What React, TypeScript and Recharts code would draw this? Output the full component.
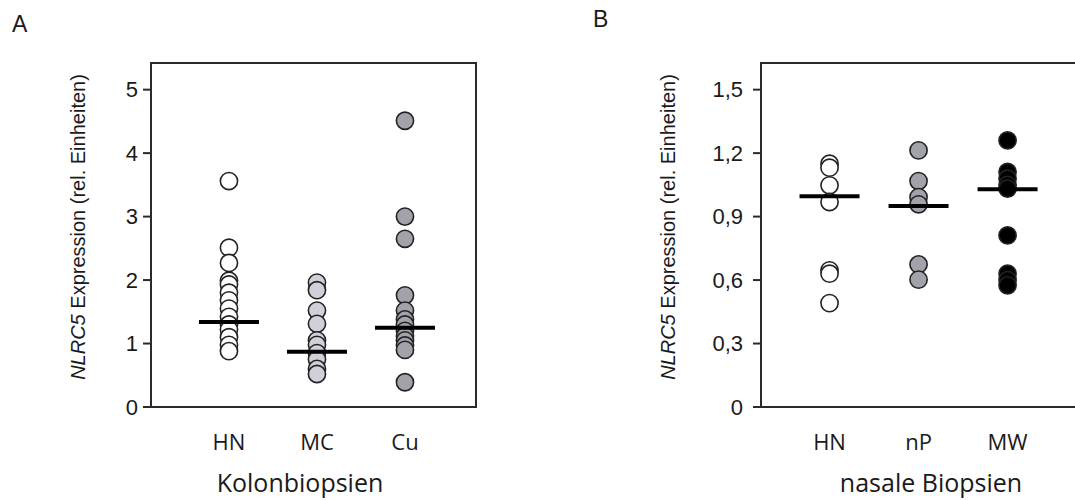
import React from 'react';
import { ScatterChart, Scatter, XAxis, YAxis, ReferenceArea } from 'recharts';

// ---------- Panel A: Kolonbiopsien ----------
const colonCategories = ['HN', 'MC', 'Cu'];
const colonHN = [3.56, 2.51, 2.27, 1.99, 1.93, 1.8, 1.68, 1.55, 1.42, 1.3, 1.22, 1.1, 0.98, 0.88];
const colonMC = [1.96, 1.84, 1.52, 1.31, 1.05, 0.98, 0.85, 0.75, 0.6, 0.52];
const colonCu = [4.51, 3.0, 2.65, 1.76, 1.52, 1.38, 1.3, 1.2, 1.12, 1.05, 0.97, 0.9, 0.39];
const colonMedians = [1.34, 0.87, 1.25];
const colonTicks = [0, 1, 2, 3, 4, 5];
const colonYMax = 5.42;

// ---------- Panel B: nasale Biopsien ----------
const nasalCategories = ['HN', 'nP', 'MW'];
const nasalHN = [1.15, 1.131, 1.048, 0.969, 0.646, 0.63, 0.491];
const nasalNP = [1.213, 1.068, 0.992, 0.958, 0.674, 0.602];
const nasalMW = [1.26, 1.111, 1.079, 1.05, 1.032, 0.811, 0.63, 0.6, 0.575];
const nasalMedians = [0.996, 0.95, 1.029];
const nasalTicks = [0, 0.3, 0.6, 0.9, 1.2, 1.5];
const nasalYMax = 1.626;

const toPoints = (values: number[], pos: number) => values.map((v) => ({ x: pos, y: v }));
const toMedians = (values: number[]) => values.map((v, i) => ({ x: i + 1, y: v }));

const AXIS_COLOR = '#2b2b2b';
const TEXT_COLOR = '#1a1a1a';
const SANS = '"Liberation Sans", Arial, sans-serif';
const LABEL_FONT = '"Open Sans", "Noto Sans", sans-serif';

const dot = (fill: string) => (props: any) => (
  <circle cx={props.cx} cy={props.cy} r={8.6} fill={fill} stroke="#222" strokeWidth={1.6} />
);

const medianShape = (props: any) => (
  <line x1={props.cx - 30} x2={props.cx + 30} y1={props.cy} y2={props.cy} stroke="#000" strokeWidth={4} />
);

const YLabel = ({ cx, cy }: { cx: number; cy: number }) => (
  <text
    x={cx}
    y={cy}
    transform={`rotate(-90, ${cx}, ${cy})`}
    textAnchor="middle"
    dominantBaseline="central"
    fontFamily={SANS}
    fontSize={20}
    fill={TEXT_COLOR}
  >
    <tspan fontStyle="italic">NLRC5</tspan>
    <tspan> Expression (rel. Einheiten)</tspan>
  </text>
);

type PanelProps = {
  categories: string[];
  groups: { values: number[]; fill: string }[];
  medians: number[];
  ticks: number[];
  yMax: number;
  xDomain: [number, number];
  width: number;
  margin: { top: number; right: number; bottom: number; left: number };
  tickMargin: number;
  labelX: number;
  formatY: (v: number) => string;
};

const Panel = (p: PanelProps) => (
  <ScatterChart width={p.width} height={500} margin={p.margin}>
    <XAxis
      type="number"
      dataKey="x"
      domain={p.xDomain}
      ticks={[1, 2, 3]}
      allowDataOverflow
      axisLine={false}
      tickLine={false}
      tickSize={0}
      tickMargin={27}
      height={30}
      tickFormatter={(v: number) => p.categories[Math.round(v) - 1] ?? ''}
      tick={{ fontFamily: LABEL_FONT, fontSize: 22, fill: TEXT_COLOR }}
    />
    <YAxis
      type="number"
      dataKey="y"
      domain={[0, p.yMax]}
      ticks={p.ticks}
      allowDataOverflow
      interval={0}
      axisLine={false}
      tickLine={{ stroke: AXIS_COLOR, strokeWidth: 2 }}
      tickSize={8}
      tickMargin={p.tickMargin}
      width={60}
      tickFormatter={p.formatY}
      tick={{ fontFamily: SANS, fontSize: 22, fill: TEXT_COLOR }}
      label={{ content: () => <YLabel cx={p.labelX} cy={227} /> }}
    />
    <ReferenceArea
      x1={p.xDomain[0]}
      x2={p.xDomain[1]}
      y1={0}
      y2={p.yMax}
      fill="none"
      fillOpacity={0}
      stroke={AXIS_COLOR}
      strokeWidth={2}
      strokeOpacity={1}
      ifOverflow="visible"
    />
    {p.groups.map((g, i) => (
      <Scatter
        key={i}
        data={toPoints(g.values, i + 1)}
        shape={dot(g.fill)}
        isAnimationActive={false}
      />
    ))}
    <Scatter data={toMedians(p.medians)} shape={medianShape} isAnimationActive={false} />
  </ScatterChart>
);

export default function App() {
  return (
    <div
      style={{
        position: 'absolute',
        left: 0,
        top: 0,
        width: 1075,
        height: 500,
        overflow: 'hidden',
        background: '#fff',
      }}
    >
      <div style={{ position: 'absolute', left: 0, top: 0 }}>
        <Panel
          categories={colonCategories}
          groups={[
            { values: colonHN, fill: '#ffffff' },
            { values: colonMC, fill: '#cfd0da' },
            { values: colonCu, fill: '#a2a2aa' },
          ]}
          medians={colonMedians}
          ticks={colonTicks}
          yMax={colonYMax}
          xDomain={[0.114, 3.807]}
          width={500}
          margin={{ top: 63, right: 24, bottom: 63, left: 91 }}
          tickMargin={5}
          labelX={78}
          formatY={(v) => String(v)}
        />
      </div>
      <div style={{ position: 'absolute', left: 560, top: 0 }}>
        <Panel
          categories={nasalCategories}
          groups={[
            { values: nasalHN, fill: '#ffffff' },
            { values: nasalNP, fill: '#a2a2aa' },
            { values: nasalMW, fill: '#000000' },
          ]}
          medians={nasalMedians}
          ticks={nasalTicks}
          yMax={nasalYMax}
          xDomain={[0.23, 3.78]}
          width={520}
          margin={{ top: 63, right: 3, bottom: 63, left: 141 }}
          tickMargin={10}
          labelX={108}
          formatY={(v) => (v === 0 ? '0' : v.toFixed(1).replace('.', ','))}
        />
      </div>
      <svg
        width={1075}
        height={500}
        style={{ position: 'absolute', left: 0, top: 0, pointerEvents: 'none' }}
      >
        <text x={12} y={32} fontFamily={SANS} fontSize={23} fill={TEXT_COLOR}>A</text>
        <text x={593} y={27} fontFamily={SANS} fontSize={23} fill={TEXT_COLOR}>B</text>
        <text x={300} y={492} textAnchor="middle" fontFamily={LABEL_FONT} fontSize={25} fill={TEXT_COLOR}>
          Kolonbiopsien
        </text>
        <text x={931} y={492} textAnchor="middle" fontFamily={LABEL_FONT} fontSize={25} fill={TEXT_COLOR}>
          nasale Biopsien
        </text>
      </svg>
    </div>
  );
}
